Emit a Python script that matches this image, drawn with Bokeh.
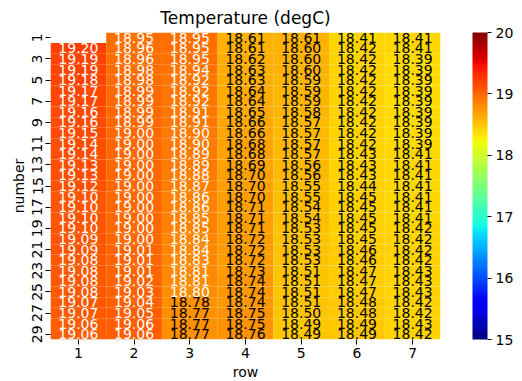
import numpy as np
from bokeh.plotting import figure
from bokeh.models import (ColumnDataSource, LinearColorMapper, ColorBar, FixedTicker,
                          Range1d)
from bokeh.embed import file_html
from bokeh.resources import INLINE

# ---- data (number 1..29 down, row 1..7 across) ----
numbers = list(range(1, 30))
rows = [1, 2, 3, 4, 5, 6, 7]
col1 = [None, 19.20, 19.19, 19.19, 19.18, 19.17, 19.17, 19.16, 19.16, 19.15, 19.14, 19.14, 19.13,
        19.13, 19.12, 19.10, 19.10, 19.10, 19.10, 19.09, 19.09, 19.08, 19.08, 19.08, 19.08,
        19.07, 19.07, 19.06, 19.06]
col2 = [18.95, 18.96, 18.96, 18.98, 18.98, 18.99, 18.99, 18.99, 18.99, 19.00, 19.00, 19.00, 19.00,
        19.00, 19.00, 19.00, 19.00, 19.00, 19.00, 19.00, 19.01, 19.01, 19.01, 19.02, 19.03,
        19.04, 19.05, 19.06, 19.06]
col3 = [18.95, 18.95, 18.95, 18.94, 18.92, 18.92, 18.92, 18.91, 18.91, 18.90, 18.90, 18.89, 18.89,
        18.88, 18.87, 18.86, 18.86, 18.85, 18.85, 18.84, 18.84, 18.83, 18.81, 18.81, 18.80,
        18.78, 18.77, 18.77, 18.77]
col4 = [18.61, 18.61, 18.62, 18.63, 18.63, 18.64, 18.64, 18.65, 18.66, 18.66, 18.68, 18.68, 18.69,
        18.70, 18.70, 18.70, 18.71, 18.71, 18.71, 18.72, 18.72, 18.72, 18.73, 18.74, 18.74,
        18.74, 18.75, 18.75, 18.76]
col5 = [18.61, 18.60, 18.60, 18.60, 18.59, 18.59, 18.59, 18.58, 18.57, 18.57, 18.57, 18.57, 18.56,
        18.56, 18.55, 18.55, 18.54, 18.54, 18.53, 18.53, 18.53, 18.53, 18.51, 18.51, 18.51,
        18.51, 18.50, 18.49, 18.49]
col6 = [18.41, 18.42, 18.42, 18.42, 18.42, 18.42, 18.42, 18.42, 18.42, 18.42, 18.42, 18.43, 18.43,
        18.43, 18.44, 18.45, 18.45, 18.45, 18.45, 18.45, 18.46, 18.46, 18.47, 18.47, 18.47,
        18.48, 18.48, 18.49, 18.49]
col7 = [18.41, 18.41, 18.39, 18.39, 18.39, 18.39, 18.39, 18.39, 18.39, 18.39, 18.39, 18.41, 18.41,
        18.41, 18.41, 18.41, 18.41, 18.41, 18.42, 18.42, 18.42, 18.42, 18.43, 18.43, 18.43,
        18.42, 18.42, 18.43, 18.42]
columns = [col1, col2, col3, col4, col5, col6, col7]
vmin, vmax = 15, 20
cbar_ticks = [15, 16, 17, 18, 19, 20]
y_ticks = list(range(1, 30, 2))

# ---- jet colormap ----
def jet(t):
    t = np.asarray(t, dtype=float)
    r = np.interp(t, [0, 0.35, 0.66, 0.89, 1], [0, 0, 1, 1, 0.5])
    g = np.interp(t, [0, 0.125, 0.375, 0.64, 0.91, 1], [0, 0, 1, 1, 0, 0])
    b = np.interp(t, [0, 0.11, 0.34, 0.65, 1], [0.5, 1, 1, 0, 0])
    return np.stack([r, g, b], axis=-1)

lut = jet(np.linspace(0, 1, 256))
palette = ["#%02x%02x%02x" % tuple(int(round(c * 255)) for c in rgb) for rgb in lut]

def text_color(v):
    idx = int(np.clip((v - vmin) / (vmax - vmin) * 256, 0, 255))
    rgb = lut[idx]
    lin = np.where(rgb <= 0.03928, rgb / 12.92, ((rgb + 0.055) / 1.055) ** 2.4)
    lum = 0.2126 * lin[0] + 0.7152 * lin[1] + 0.0722 * lin[2]
    return "black" if lum > 0.408 else "white"

xs, ys, vals, labels, tcols = [], [], [], [], []
for r, col in zip(rows, columns):
    for n, v in zip(numbers, col):
        if v is None:
            continue
        xs.append(r); ys.append(n); vals.append(v)
        labels.append("%.2f" % v); tcols.append(text_color(v))

src = ColumnDataSource(dict(x=xs, y=ys, v=vals, label=labels, tc=tcols))
mapper = LinearColorMapper(palette=palette, low=vmin, high=vmax)

p = figure(frame_width=390, frame_height=307, output_backend="svg", toolbar_location=None,
           x_range=Range1d(0.5, 7.5), y_range=Range1d(29.5, 0.5),
           min_border_left=50, min_border_right=10, min_border_top=25, min_border_bottom=38)
p.title.text = "Temperature (degC)"
p.title.align = "center"
p.title.text_font = "DejaVu Sans"
p.title.text_font_size = "17px"
p.title.text_font_style = "normal"
p.title.text_color = "black"

p.rect(x="x", y="y", width=1, height=1, source=src,
       fill_color={"field": "v", "transform": mapper}, line_color=None)
p.text(x="x", y="y", text="label", source=src, text_color="tc",
       text_align="center", text_baseline="middle", text_font_size="14px",
       text_font={"value": "DejaVu Sans"})

p.grid.visible = False
p.outline_line_color = None
p.background_fill_color = "white"

for ax, ticks in ((p.xaxis[0], rows), (p.yaxis[0], y_ticks)):
    ax.ticker = FixedTicker(ticks=ticks)
    ax.axis_line_color = None
    ax.major_tick_in = 0
    ax.major_tick_out = 5
    ax.minor_tick_line_color = None
    ax.major_tick_line_color = "black"
    ax.major_label_text_font = "DejaVu Sans"
    ax.major_label_text_font_size = "14px"
    ax.major_label_text_color = "black"
    ax.major_label_standoff = 3
    ax.axis_label_standoff = 3
    ax.axis_label_text_font = "DejaVu Sans"
    ax.axis_label_text_font_size = "14px"
    ax.axis_label_text_font_style = "normal"
    ax.axis_label_text_color = "black"
p.xaxis.axis_label = "row"
p.yaxis.axis_label = "number"
p.yaxis.major_label_orientation = "vertical"

cb = ColorBar(color_mapper=mapper, ticker=FixedTicker(ticks=cbar_ticks), width=15,
              padding=0, margin=0, location=(32, 0), bar_line_color=None,
              major_tick_in=0, major_tick_out=4, major_tick_line_color="black",
              minor_tick_line_color=None, label_standoff=4,
              major_label_text_font="DejaVu Sans", major_label_text_font_size="14px",
              major_label_text_color="black", background_fill_color=None)
p.add_layout(cb, "right")

open("out.html", "w").write(file_html(p, INLINE))
